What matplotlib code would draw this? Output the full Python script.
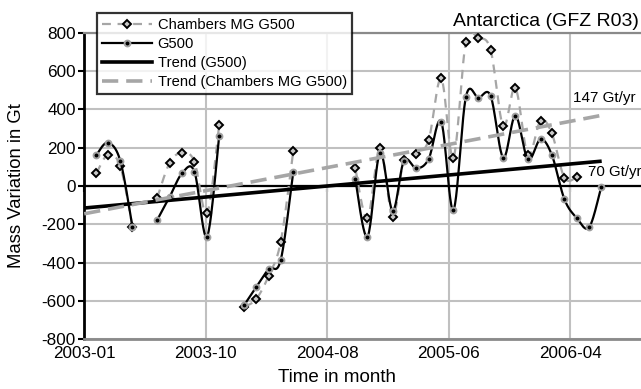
import numpy as np
import pandas as pd
import matplotlib
matplotlib.use('Agg')
import matplotlib.pyplot as plt
import matplotlib.dates as mdates
from matplotlib.lines import Line2D

plt.rcParams['font.family'] = ['Liberation Sans', 'DejaVu Sans']
plt.rcParams['axes.unicode_minus'] = False

nan = np.nan
# monthly solutions 2003-01 .. 2006-06 (NaN = missing month)
months = pd.period_range('2003-01', '2006-06', freq='M').strftime('%Y-%m').tolist()
g500 = [162, 226, 132, -213, nan, -178, -56, 68, 75, -265, 261, nan,
        -621, -529, -435, -386, 75, nan, nan, nan, nan, 35, -265, 174,
        -129, 131, 92, 141, 336, -125, 466, 461, 470, 148, 367, 139,
        244, 162, -69, -166, -216, -4]
chambers = [66, 162, 104, -213, nan, -63, 122, 174, 127, -143, 319, nan,
            -630, -592, -470, -291, 184, nan, nan, nan, nan, 92, -169, 200,
            -160, 136, 166, 240, 562, 148, 754, 771, 710, 313, 513, 162,
            341, 275, 43, 45, nan, nan]

# linear trends (value at start date, slope in Gt/yr)
trend_start, trend_end = '2003-01-01', '2006-07-01'
trend_g500 = (-115, 70)
trend_chambers = (-145, 147)
trend_labels = ['147 Gt/yr', '70 Gt/yr']

xtick_start = '2003-01-01'
xtick_step_days = 300
n_xticks = 5
yticks = list(range(-800, 801, 200))

x = mdates.date2num(pd.to_datetime(months) + pd.offsets.MonthEnd(0))


def smooth(xv, yv, n=24):
    xv = np.asarray(xv, float); yv = np.asarray(yv, float)
    ok = np.isfinite(yv)
    segs = []
    cur = []
    for i in range(len(xv)):
        if ok[i]:
            cur.append((xv[i], yv[i]))
        else:
            if cur:
                segs.append(cur)
            cur = []
    if cur:
        segs.append(cur)
    outx, outy = [], []
    t = np.linspace(0, 1, n)[:, None]
    for s in segs:
        P = np.array(s)
        k = len(P)
        if k == 1:
            outx += [P[0, 0]]; outy += [P[0, 1]]
        for i in range(k - 1):
            P0 = P[i - 1] if i > 0 else P[i]
            P1 = P[i]; P2 = P[i + 1]
            P3 = P[i + 2] if i + 2 < k else P[i + 1]
            c1 = P1 + (P2 - P0) / 6.0
            c2 = P2 - (P3 - P1) / 6.0
            B = ((1 - t) ** 3) * P1 + 3 * ((1 - t) ** 2) * t * c1 + 3 * (1 - t) * t ** 2 * c2 + t ** 3 * P2
            outx += list(B[:, 0]); outy += list(B[:, 1])
        outx.append(nan); outy.append(nan)
    return np.array(outx), np.array(outy)


W, H = 641, 389
fig = plt.figure(figsize=(W / 100, H / 100), dpi=100)
L, R, T, B = 84.2, 641, 32.8, 339.2
ax = fig.add_axes([L / W, 1 - B / H, (R - L) / W, (B - T) / H])

gray = '#a6a6a6'
# Chambers series
sx, sy = smooth(x, chambers)
ax.plot(sx, sy, color=gray, lw=1.6, ls=(0, (4, 3)), zorder=3)
ax.plot(x, chambers, ls='none', marker='D', ms=4.2, mfc='#c8c8c8', mec='black', mew=1.4, zorder=3)
# G500 series
sx, sy = smooth(x, g500)
ax.plot(sx, sy, color='black', lw=1.6, zorder=4)
ax.plot(x, g500, ls='none', marker='o', ms=4.2, mfc='black', mec='#a0a0a0', mew=1.4, zorder=4)

# trends
t0 = pd.Timestamp(trend_start); t1 = pd.Timestamp(trend_end)
tx = mdates.date2num([t0, t1])
yrs = np.array([0.0, (t1 - t0).days / 365.25])
ax.plot(tx, trend_g500[0] + trend_g500[1] * yrs, color='black', lw=2.6, solid_capstyle='butt', zorder=5)
ax.plot(tx, trend_chambers[0] + trend_chambers[1] * yrs, color=gray, lw=2.6, ls=(0, (4.5, 2.2)), zorder=6)

ax.text(mdates.date2num(pd.Timestamp('2006-04-22')), 460, trend_labels[0], fontsize=11, va='center', ha='left')
ax.text(mdates.date2num(pd.Timestamp('2006-05-28')), 73, trend_labels[1], fontsize=10.8, va='center', ha='left')

# axes
xt = mdates.date2num([pd.Timestamp(xtick_start) + pd.Timedelta(days=xtick_step_days * k) for k in range(n_xticks)])
ax.set_xlim(mdates.date2num(pd.Timestamp('2003-01-01')), mdates.date2num(pd.Timestamp('2006-10-06')))
ax.set_ylim(-800, 800)
ax.set_xticks(xt)
ax.xaxis.set_major_formatter(mdates.DateFormatter('%Y-%m'))
ax.set_yticks(yticks)
ax.grid(True, color='#c0c0c0', lw=1.5, zorder=0)
ax.set_axisbelow(True)
ax.axhline(0, color='black', lw=1.6, zorder=2)

ax.spines['right'].set_visible(False)
ax.spines['left'].set_color('black'); ax.spines['left'].set_linewidth(2)
ax.spines['top'].set_color('#8a8a8a'); ax.spines['top'].set_linewidth(1.6)
ax.spines['bottom'].set_color('#8a8a8a'); ax.spines['bottom'].set_linewidth(2)
ax.tick_params(axis='x', length=0, pad=5, labelsize=12.3)
ax.tick_params(axis='y', direction='out', length=4, width=1.5, pad=2, labelsize=12.3)

sec = ax.secondary_xaxis(0.5)
sec.set_xticks(xt)
sec.tick_params(axis='x', direction='in', length=4, width=1.5, labeltop=False, labelbottom=False, top=True, bottom=False)
for s in sec.spines.values():
    s.set_visible(False)

ax.set_ylabel('Mass Variation in Gt', fontsize=13.3, va='center')
ax.yaxis.set_label_coords((17 - L) / (R - L), 0.5)
ax.set_xlabel('Time in month', fontsize=13.5)
ax.xaxis.set_label_coords((337 - L) / (R - L), (B - 378) / (B - T))
ax.xaxis.label.set_va('center')

fig.text(639 / W, 1 - 21 / H, 'Antarctica (GFZ R03)', ha='right', va='center', fontsize=14)

handles = [
    Line2D([], [], color=gray, lw=1.6, ls=(0, (4, 3)), marker='D', ms=4.2, mfc='#c8c8c8', mec='black', mew=1.4),
    Line2D([], [], color='black', lw=1.6, marker='o', ms=4.2, mfc='black', mec='#a0a0a0', mew=1.4),
    Line2D([], [], color='black', lw=2.6),
    Line2D([], [], color=gray, lw=2.6, ls=(0, (4.5, 2.2))),
]
labels = ['Chambers MG G500', 'G500', 'Trend (G500)', 'Trend (Chambers MG G500)']
leg = fig.legend(handles, labels, loc='upper left', bbox_to_anchor=(96.7 / W, 1 - 12.7 / H),
                 fontsize=10.6, frameon=True, fancybox=False, handlelength=3.4, handletextpad=0.35,
                 labelspacing=0.33, borderpad=0.38, borderaxespad=0)
leg.get_frame().set_edgecolor('black')
leg.get_frame().set_linewidth(1.6)
leg.set_zorder(10)

fig.savefig('out.png', dpi=100)
